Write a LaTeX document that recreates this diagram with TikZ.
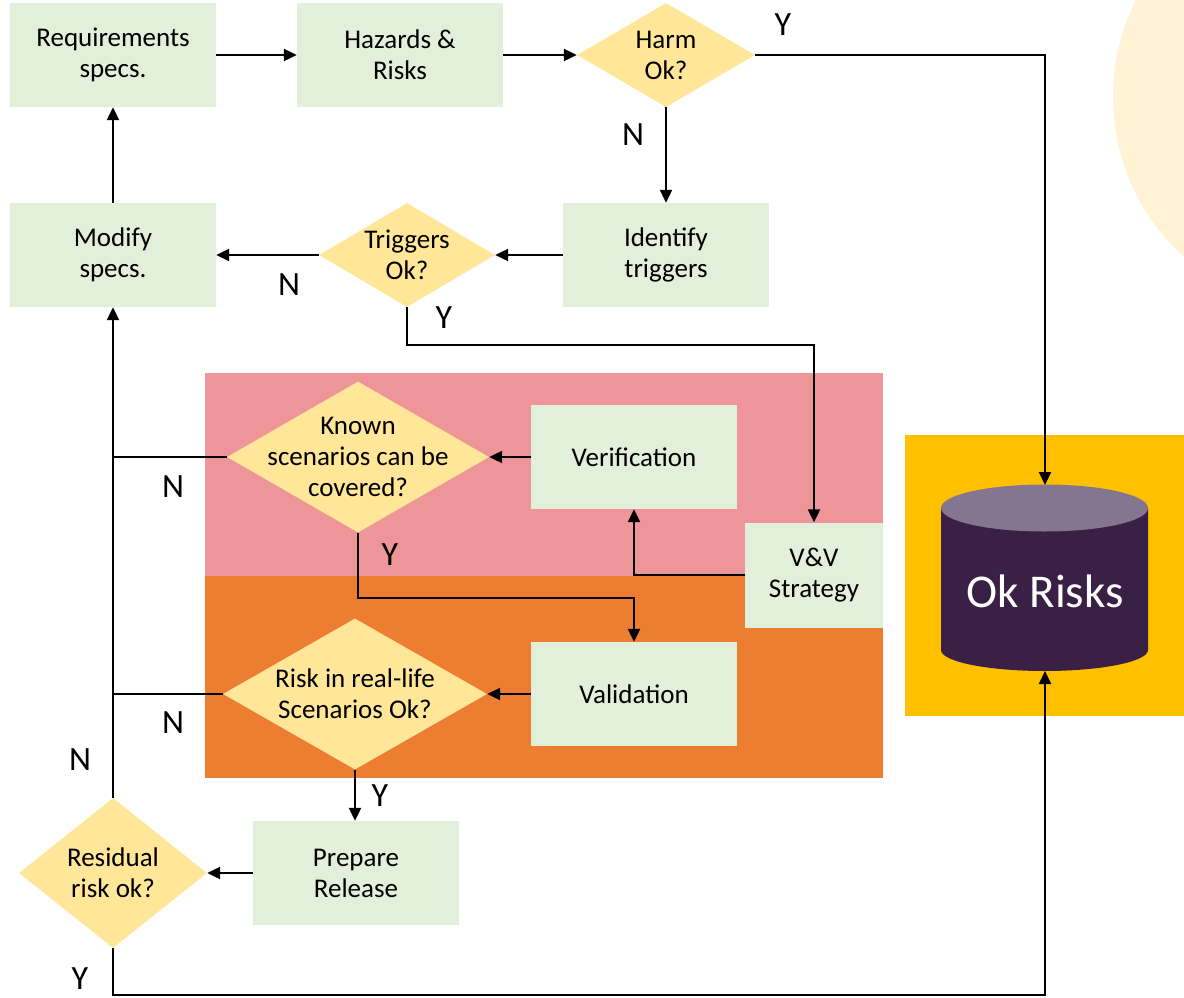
\documentclass[tikz,border=0pt]{standalone}
\usepackage{fontspec}
\setmainfont{Carlito}
\usetikzlibrary{arrows.meta,shapes.geometric}

\definecolor{boxgreen}{HTML}{E2EFDA}
\definecolor{decyellow}{HTML}{FFE699}
\definecolor{verpink}{HTML}{EE9599}
\definecolor{valorange}{HTML}{ED7D31}
\definecolor{storegold}{HTML}{FFC000}
\definecolor{paleglow}{HTML}{FFF2D5}
\definecolor{cylbody}{HTML}{3B2046}
\definecolor{cyllid}{HTML}{857690}

\newcommand{\flowfont}{\fontsize{27}{31}\selectfont}
\newcommand{\tagfont}{\fontsize{34}{40}\selectfont}
\newcommand{\storefont}{\fontsize{47}{54}\selectfont}

\begin{document}
\begin{tikzpicture}[x=1pt,y=-1pt,
  stepbox/.style={fill=boxgreen, minimum width=206pt, minimum height=104pt,
                  inner sep=0pt, align=center, font=\flowfont},
  decision/.style={diamond, fill=decyellow, inner sep=0pt},
  dtext/.style={align=center, font=\flowfont, inner sep=0pt},
  tag/.style={font=\tagfont, inner sep=0pt},
  conn/.style={line width=2.2pt},
  arr/.style={conn, -{Triangle[length=13pt,width=12pt]}}]

\useasboundingbox (0,0) rectangle (1184,998);

% background shapes
\begin{scope}
  \clip (0,0) rectangle (1184,998);
  \fill[paleglow] (1329,97) circle (216);
\end{scope}
\fill[storegold] (905,435) rectangle (1184,716);
\fill[verpink] (205,373) rectangle (883,576);
\fill[valorange] (205,576) rectangle (883,778);

% data store cylinder
\fill[cylbody] (941,508) -- (941,650)
  arc[start angle=180,end angle=0,x radius=103.5,y radius=21]
  -- (1148,508) -- cycle;
\fill[cyllid] (1044.5,508) ellipse[x radius=103.5,y radius=23.5];
\coordinate (cyltop) at (1045,485);
\coordinate (cylbot) at (1045,671);
\node[font=\storefont, text=white, inner sep=0pt] (store) at (1045,591) {Ok Risks};

% process steps
\node[stepbox] (req)    at (113,55)  {Requirements\\specs.};
\node[stepbox] (haz)    at (400,55)  {Hazards \&\\Risks};
\node[stepbox] (ident)  at (666,255) {Identify\\triggers};
\node[stepbox] (mod)    at (113,255) {Modify\\specs.};
\node[stepbox] (verif)  at (634,457) {Verification};
\node[stepbox, minimum width=138pt, minimum height=105pt] (vv) at (814,575) {V\&V\\Strategy};
\node[stepbox] (valid)  at (634,694) {Validation};
\node[stepbox] (prep)   at (356,873) {Prepare\\Release};

% decisions
\node[decision, minimum width=178pt, minimum height=104pt] (harm)  at (666,55)  {};
\node[dtext] (harmT) at (harm) {Harm\\Ok?};
\node[decision, minimum width=176pt, minimum height=104pt] (trig)  at (407,255) {};
\node[dtext] (trigT) at (trig) {Triggers\\Ok?};
\node[decision, minimum width=262pt, minimum height=151pt] (known) at (358,457) {};
\node[dtext] (knownT) at (known) {Known\\scenarios can be\\covered?};
\node[decision, minimum width=264pt, minimum height=151pt] (risk)  at (355,694) {};
\node[dtext] (riskT) at (risk) {Risk in real-life\\Scenarios Ok?};
\node[decision, minimum width=188pt, minimum height=150pt] (resid) at (113,873) {};
\node[dtext] (residT) at (resid) {Residual\\risk ok?};

% connectors
\coordinate (trigdrop) at (814,345);
\coordinate (knowndrop) at (634,598);
\coordinate (residdrop) at (113,995);

\draw[arr] (req.east) -- (haz.west);
\draw[arr] (haz.east) -- (harm.west);
\draw[arr] (harm.east) -| (cyltop);
\draw[arr] (harm.south) -- (ident.north);
\draw[arr] (ident.west) -- (trig.east);
\draw[arr] (trig.west) -- (mod.east);
\draw[arr] (mod.north) -- (req.south);
\draw[arr] (trig.south) |- (trigdrop) -- (vv.north);
\draw[arr] (verif.west) -- (known.east);
\draw[arr] (vv.west) -| (verif.south);
\draw[arr] (known.south) |- (knowndrop) -- (valid.north);
\draw[arr] (valid.west) -- (risk.east);
\draw[conn] (known.west) -- (known.west -| mod.south);
\draw[conn] (risk.west) -- (risk.west -| mod.south);
\draw[arr] (resid.north) -- (mod.south);
\draw[arr] (risk.south) -- (risk.south |- prep.north);
\draw[arr] (prep.west) -- (resid.east);
\draw[arr] (resid.south) -- (residdrop) -| (cylbot);

% branch labels
\node[tag] (y1)  at (783,25)  {Y};
\node[tag] (n1)  at (633,135) {N};
\node[tag] (n2)  at (289,285) {N};
\node[tag] (y2)  at (444,318) {Y};
\node[tag] (n3)  at (173,487) {N};
\node[tag] (y3)  at (390,555) {Y};
\node[tag] (n4)  at (173,723) {N};
\node[tag] (n5)  at (80,760)  {N};
\node[tag] (y4)  at (380,796) {Y};
\node[tag] (y5)  at (80,979)  {Y};
\end{tikzpicture}
\end{document}
